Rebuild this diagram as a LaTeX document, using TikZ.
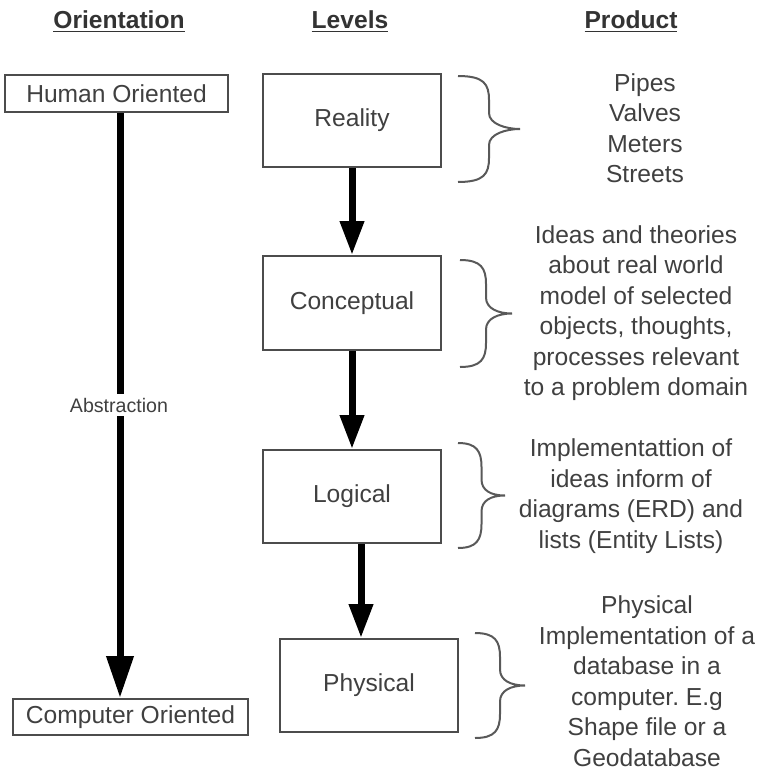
\documentclass[tikz,border=0pt]{standalone}
\usepackage{fontspec}
\setmainfont{Liberation Sans}
\usetikzlibrary{arrows.meta}
\frenchspacing
% curly brace: left x, top y, bottom y, tip x
\newcommand{\prodbrace}[4]{%
  \pgfmathsetmacro{\bmid}{(#2+#3)/2}
  \pgfmathsetmacro{\bvx}{(#1+#4)/2}
  \draw[bracel] (#1,#2) .. controls (\bvx-5,#2) and (\bvx,#2+8) .. (\bvx,#2+24)
    -- (\bvx,\bmid-16) .. controls (\bvx,\bmid-5) and (#4-14,\bmid) .. (#4,\bmid)
    .. controls (#4-14,\bmid) and (\bvx,\bmid+5) .. (\bvx,\bmid+16)
    -- (\bvx,#3-24) .. controls (\bvx,#3-8) and (\bvx-5,#3) .. (#1,#3);
}
\begin{document}
\begin{tikzpicture}[x=0.5pt,y=-0.5pt,
    txt/.style={font=\fontsize{12.3}{15.25}\selectfont, text=black!75},
    head/.style={font=\fontsize{12.3}{15.25}\selectfont\bfseries, text=black!80},
    levelbox/.style={draw=black!70, line width=1pt, minimum width=89pt, minimum height=46.5pt, txt},
    orientbox/.style={draw=black!70, line width=1pt, minimum height=18.5pt, inner sep=0pt, txt},
    flow/.style={line width=3.5pt, -{Triangle[width=11.5pt,length=17pt]}},
    bracel/.style={draw=black!65, line width=1pt}]
    \useasboundingbox (0,0) rectangle (761,771);
    % headers
    \node[head] (horient) at (119,22) {\underline{Orientation}};
    \node[head] (hlevels) at (350,22) {\underline{Levels}};
    \node[head] (hprod) at (631,22) {\underline{Product}};
    % orientation
    \node[orientbox, minimum width=111.5pt] (human) at (116.5,93.5) {Human Oriented};
    \node[orientbox, minimum width=117.5pt, minimum height=18pt] (computer) at (130.5,717) {Computer Oriented};
    \coordinate (axis) at (120,0);
    \draw[line width=3.5pt, -{Triangle[width=13pt,length=21pt]}] (human.south -| axis) -- (computer.north -| axis);
    \node[font=\fontsize{9.8}{11}\selectfont, fill=white, inner xsep=0pt, inner ysep=2pt, text=black!75] (abst) at (119,405) {Abstraction};
    % levels
    \node[levelbox] (reality) at (352,120.5) {Reality};
    \node[levelbox, minimum height=47pt] (concept) at (352,303) {Conceptual};
    \node[levelbox] (logical) at (352,496.5) {Logical};
    \node[levelbox] (physical) at (369,685.5) {Physical};
    \draw[flow] (reality) -- (concept);
    \draw[flow] (concept) -- (logical);
    \draw[flow] ([xshift=4.5pt]logical.south) -- ([xshift=-4pt]physical.north);
    % products
    \prodbrace{458}{76}{182}{520}
    \prodbrace{460}{260}{367}{512}
    \prodbrace{458}{443}{548}{505}
    \prodbrace{475}{633}{738}{525}
    \node[txt, align=center] (preal) at (645,128) {Pipes\\Valves\\Meters\\Streets};
    \node[txt, align=center] (pconc) at (636,313) {Ideas and theories\\about real world\\model of selected\\objects, thoughts,\\processes relevant\\to a problem domain};
    \node[txt, align=center] (plog) at (631,496) {Implementattion of\\ideas inform of\\diagrams (ERD) and\\lists (Entity Lists)};
    \node[txt, align=center] (pphys) at (647,681) {Physical\\Implementation of a\\database in a\\computer. E.g\\Shape file or a\\Geodatabase};
\end{tikzpicture}
\end{document}
